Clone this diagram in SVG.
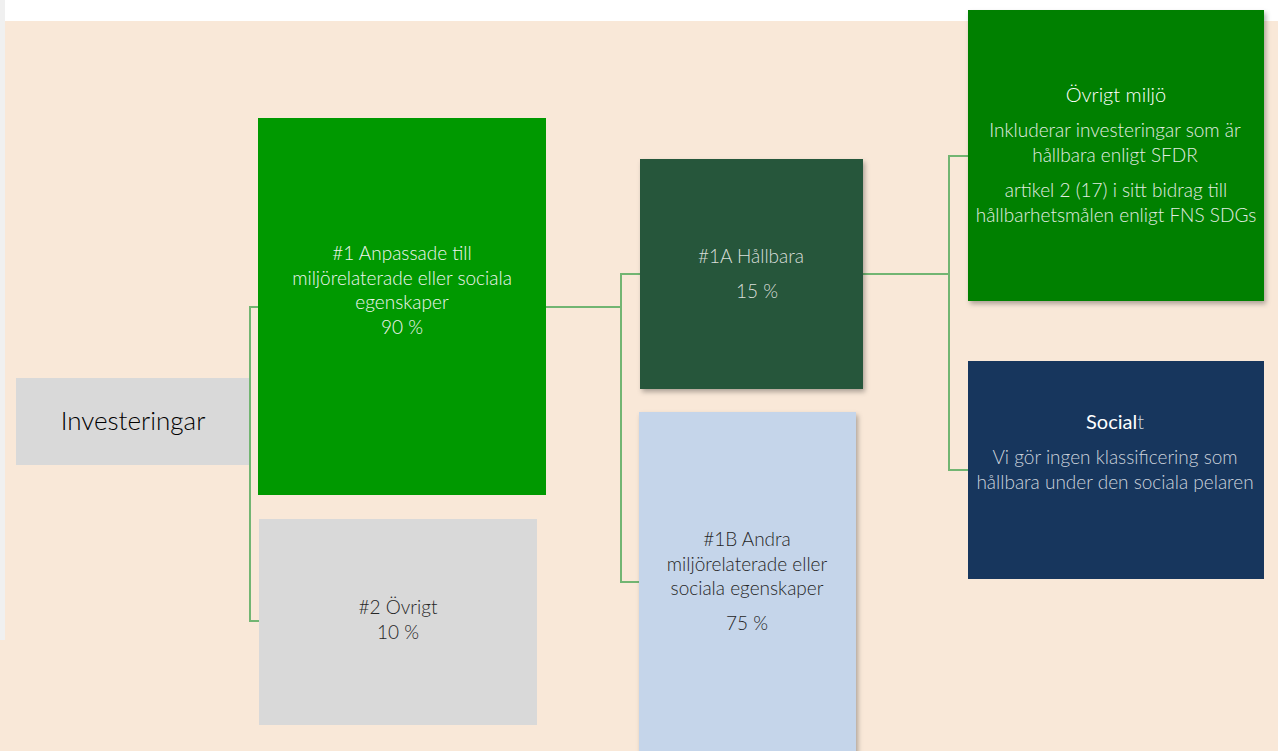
<svg xmlns="http://www.w3.org/2000/svg" width="1278" height="751" viewBox="0 0 1278 751">
<style>
.t{font-family:Lato,"Open Sans","Liberation Sans",sans-serif;text-anchor:middle;font-weight:300}
.lt{fill:#f0f5f0;font-size:19px}
.dk{fill:#262626;font-size:19px}
.conn{fill:none;stroke:#72b572;stroke-width:2}
</style>
<defs>
<filter id="sh" x="-10%" y="-10%" width="130%" height="130%">
<feDropShadow dx="2" dy="3" stdDeviation="2.5" flood-color="#000" flood-opacity="0.3"/>
</filter>
</defs>
<rect x="0" y="0" width="1278" height="751" fill="#f9e8d8"/>
<rect x="5" y="0" width="1273" height="21" fill="#ffffff"/>
<rect x="0" y="0" width="5" height="640" fill="#f0f0f0"/>
<g id="connectors">
<polyline class="conn" points="258,307 250,307 250,621 259,621"/>
<polyline class="conn" points="546,307 621,307"/>
<polyline class="conn" points="640,274 621,274 621,582 639,582"/>
<polyline class="conn" points="863,274 949,274"/>
<polyline class="conn" points="968,156 949,156 949,470 968,470"/>
</g>
<g id="investeringar">
<rect x="16" y="378" width="233" height="87" fill="#d9d9d9"/>
<text class="t" x="133" y="430" font-size="26" font-weight="400" fill="#000">Investeringar</text>
</g>
<g id="n1">
<rect x="258" y="118" width="288" height="377" fill="#009900"/>
<text class="t lt" x="402" y="260">#1 Anpassade till</text>
<text class="t lt" x="402" y="285">miljörelaterade eller sociala</text>
<text class="t lt" x="402" y="309">egenskaper</text>
<text class="t lt" x="402" y="334">90 %</text>
</g>
<g id="n2">
<rect x="259" y="519" width="278" height="206" fill="#d9d9d9"/>
<text class="t dk" x="398" y="614">#2 Övrigt</text>
<text class="t dk" x="398" y="639">10 %</text>
</g>
<g id="n1a">
<rect x="640" y="159" width="223" height="230" fill="#26573a" filter="url(#sh)"/>
<text class="t" x="751" y="263" font-size="19" fill="#dadeda">#1A Hållbara</text>
<text class="t" x="757" y="298" font-size="19" fill="#dadeda">15 %</text>
</g>
<g id="n1b">
<rect x="639" y="412" width="217" height="345" fill="#c5d5ea" filter="url(#sh)"/>
<text class="t dk" x="747" y="546">#1B Andra</text>
<text class="t dk" x="747" y="571">miljörelaterade eller</text>
<text class="t dk" x="747" y="595">sociala egenskaper</text>
<text class="t dk" x="747" y="630">75 %</text>
</g>
<g id="ovrigt-miljo">
<rect x="968" y="10" width="296" height="291" fill="#008000" filter="url(#sh)"/>
<text class="t" x="1116" y="102" font-size="20" font-weight="400" fill="#ffffff">Övrigt miljö</text>
<text class="t" x="1115" y="137" font-size="19" fill="#e2ece2">Inkluderar investeringar som är</text>
<text class="t" x="1115" y="162" font-size="19" fill="#e2ece2">hållbara enligt SFDR</text>
<text class="t" x="1116" y="197" font-size="19" fill="#e2ece2">artikel 2 (17) i sitt bidrag till</text>
<text class="t" x="1116" y="222" font-size="19" fill="#e2ece2">hållbarhetsmålen enligt FNS SDGs</text>
</g>
<g id="socialt">
<rect x="968" y="361" width="296" height="218" fill="#17365d"/>
<text class="t" x="1115" y="429" font-size="20" fill="#ffffff"><tspan font-weight="400">Social</tspan><tspan fill="#d0d6de">t</tspan></text>
<text class="t" x="1115" y="464" font-size="19" fill="#ccd3dc">Vi gör ingen klassificering som</text>
<text class="t" x="1115" y="489" font-size="19" fill="#ccd3dc">hållbara under den sociala pelaren</text>
</g>
</svg>
